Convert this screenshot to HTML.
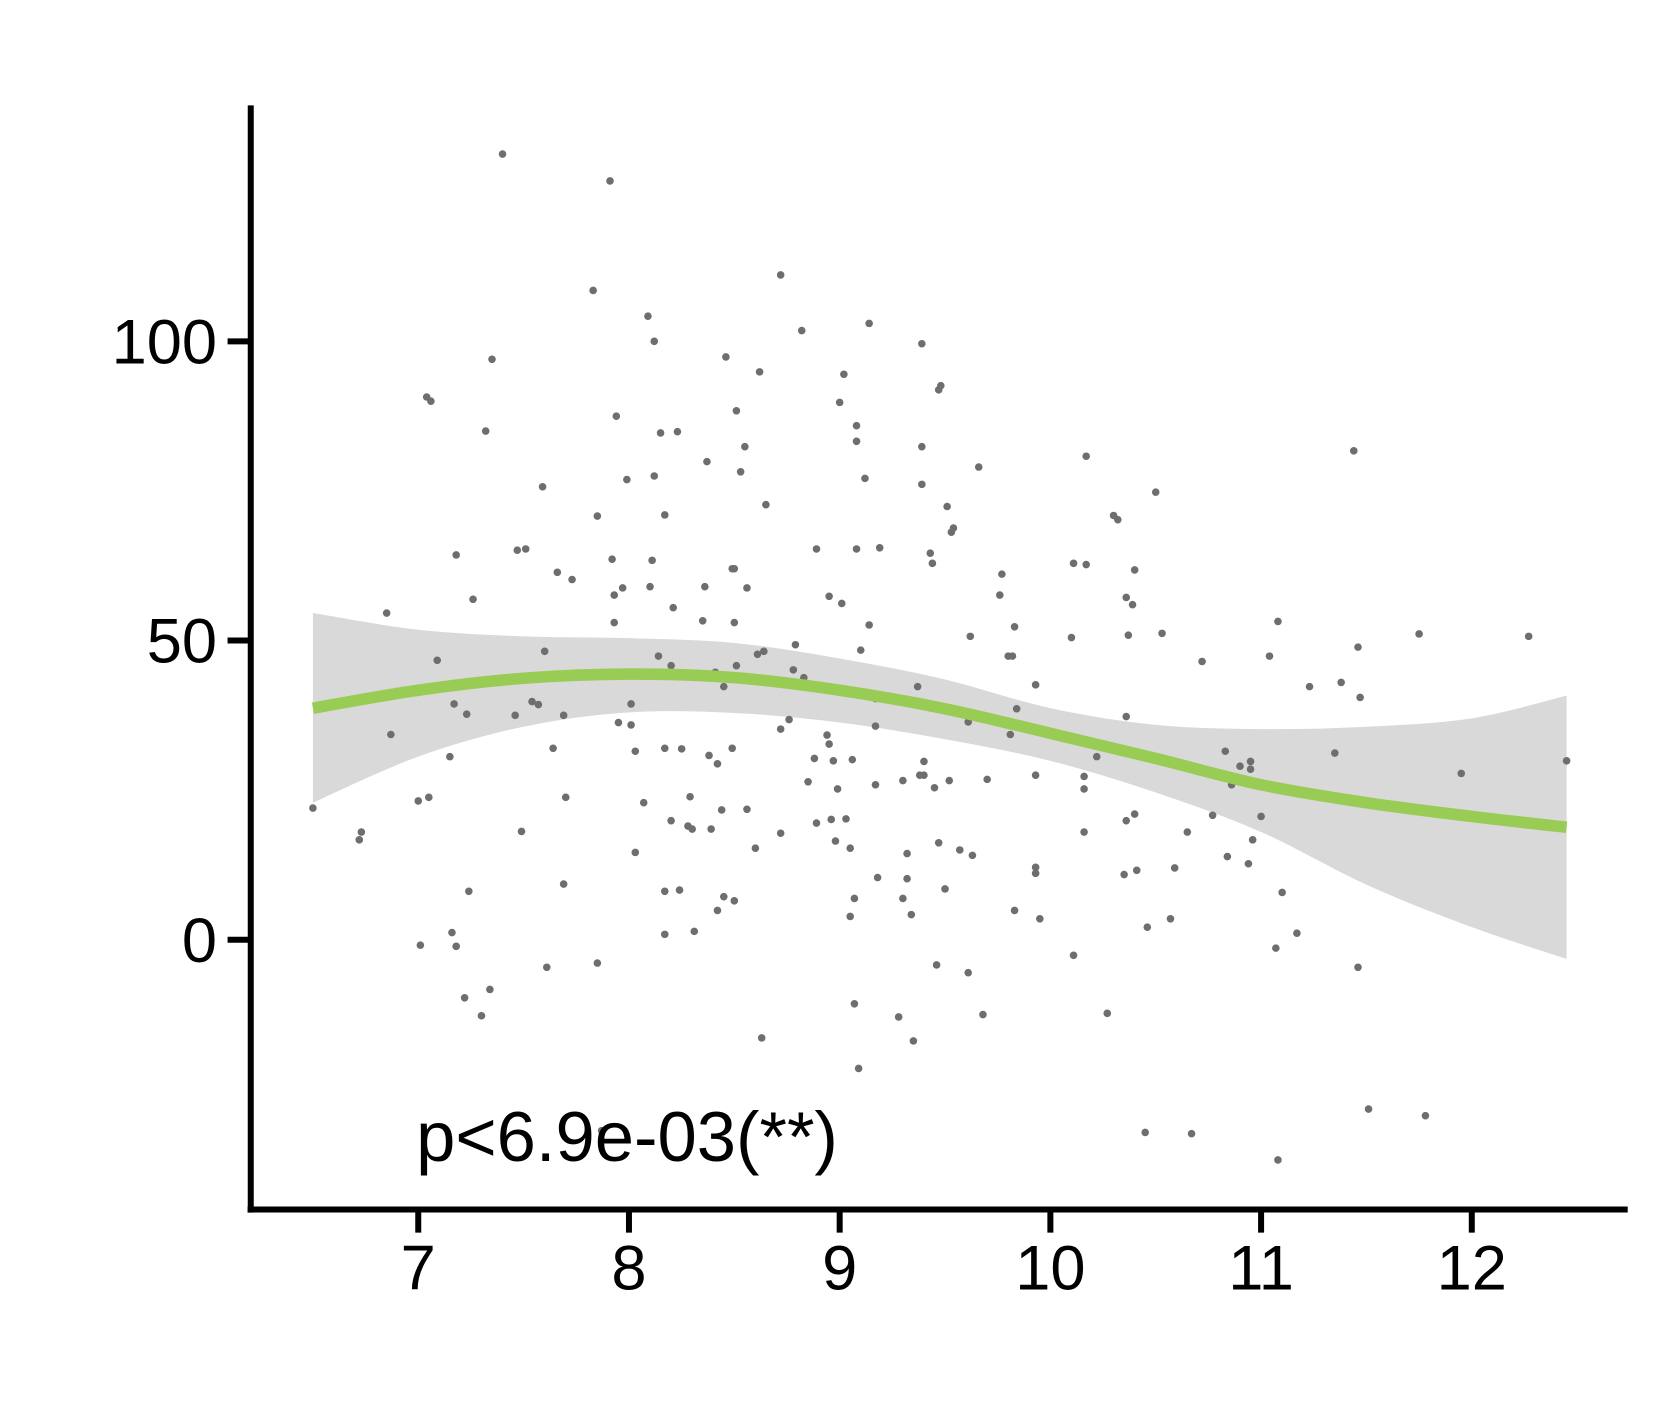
<!DOCTYPE html>
<html><head><meta charset="utf-8"><style>html,body{margin:0;padding:0;background:#fff}svg{display:block}</style></head>
<body>
<svg id="chart" width="1653" height="1417" viewBox="0 0 1569 1345" xmlns="http://www.w3.org/2000/svg" font-family="Liberation Sans, Arial, sans-serif">
<rect width="1569" height="1345" fill="#fff"/>
<g id="band"></g><g id="pts"></g><g id="line"></g><g id="axes"></g>
<text x="395" y="1102" font-size="67" fill="#000">p&lt;6.9e-03(**)</text>
</svg>
<script>
const xTicks=[7,8,9,10,11,12];
const yTicks=[0,50,100];
const ptX=[6.50,6.73,6.72,6.85,6.87,7.0,7.05,7.04,7.06,7.01,7.09,7.16,7.18,7.15,7.17,7.18,7.23,7.24,7.22,7.26,7.30,7.32,7.34,7.35,7.40,7.46,7.47,7.51,7.49,7.54,7.57,7.59,7.60,7.61,7.64,7.66,7.69,7.69,7.70,7.73,7.83,7.85,7.85,7.87,7.91,7.92,7.93,7.93,7.94,7.95,7.97,7.99,8.01,8.01,8.03,8.03,8.07,8.09,8.10,8.11,8.12,8.12,8.14,8.15,8.17,8.17,8.17,8.17,8.20,8.20,8.21,8.23,8.24,8.25,8.28,8.30,8.29,8.31,8.35,8.36,8.37,8.38,8.39,8.41,8.42,8.42,8.44,8.45,8.45,8.46,8.49,8.49,8.50,8.50,8.50,8.51,8.51,8.53,8.55,8.56,8.56,8.60,8.61,8.62,8.63,8.64,8.65,8.72,8.72,8.72,8.76,8.78,8.79,8.82,8.83,8.85,8.88,8.89,8.89,8.94,8.95,8.95,8.96,8.97,8.98,8.99,9.00,9.01,9.02,9.03,9.05,9.05,9.06,9.07,9.07,9.08,9.08,9.08,9.09,9.10,9.12,9.14,9.14,9.17,9.17,9.17,9.18,9.19,9.28,9.30,9.30,9.32,9.32,9.34,9.35,9.37,9.38,9.39,9.39,9.39,9.40,9.40,9.43,9.44,9.45,9.46,9.47,9.47,9.48,9.50,9.51,9.52,9.53,9.54,9.57,9.61,9.61,9.62,9.63,9.66,9.68,9.70,9.76,9.77,9.80,9.82,9.81,9.83,9.83,9.84,9.93,9.93,9.93,9.93,9.95,10.10,10.11,10.11,10.16,10.16,10.16,10.17,10.17,10.22,10.27,10.30,10.32,10.35,10.36,10.36,10.36,10.37,10.39,10.40,10.40,10.41,10.45,10.46,10.50,10.53,10.57,10.59,10.65,10.67,10.72,10.77,10.82,10.83,10.84,10.86,10.90,10.94,10.95,10.95,10.96,11.00,11.04,11.07,11.08,11.08,11.10,11.17,11.23,11.35,11.38,11.44,11.46,11.46,11.47,11.51,11.75,11.78,11.95,12.27,12.45];
const ptY=[22.0,18.0,16.7,54.6,34.3,23.2,23.8,90.7,90.0,-0.9,46.7,1.2,-1.1,30.6,39.4,64.3,37.7,8.1,-9.7,56.9,-12.7,85.0,-8.3,97.0,131.3,37.5,65.1,65.3,18.1,39.8,39.3,75.7,48.2,-4.6,32.0,61.4,9.3,37.5,23.8,60.2,108.5,-3.9,70.8,-31.9,126.8,63.6,57.6,53.0,87.5,36.3,58.8,76.9,39.4,35.9,31.5,14.6,22.9,104.2,59.0,63.4,100.0,77.5,47.4,84.7,71.0,32.0,8.1,0.9,45.8,19.9,55.5,84.9,8.3,31.9,19.0,18.5,23.9,1.4,53.3,59.0,79.9,30.8,18.5,44.7,4.9,29.4,21.7,42.3,7.2,97.4,32.0,62.0,62.0,53.0,6.5,45.8,88.4,78.2,82.4,58.8,21.8,15.3,47.7,94.9,-16.4,48.2,72.7,35.2,17.8,111.1,36.8,45.1,49.3,101.8,43.8,26.4,30.3,65.3,19.5,34.2,32.7,57.4,20.1,29.9,16.5,25.2,89.8,56.2,94.5,20.2,15.3,3.9,30.1,6.9,-10.7,83.3,85.9,65.3,-21.5,48.4,77.1,52.6,103.0,40.3,25.9,35.7,10.4,65.5,-12.9,26.6,6.9,14.4,10.2,4.2,-16.9,42.3,27.5,99.6,82.4,76.1,29.8,27.5,64.6,62.9,25.4,-4.2,16.2,91.9,92.6,8.5,72.4,26.6,68.1,68.8,15.0,-5.5,36.4,50.7,14.1,79.0,-12.5,26.8,57.6,61.1,47.4,47.4,34.3,4.9,52.3,38.6,27.5,12.1,11.1,42.6,3.5,50.5,62.9,-2.6,25.2,27.3,18.0,80.8,62.7,30.6,-12.3,70.9,70.2,10.9,57.2,37.3,19.9,50.9,56.0,61.8,21.0,11.6,-32.2,2.1,74.8,51.2,3.5,12.0,18.0,-32.4,46.5,20.8,27.1,31.5,13.9,25.9,29.0,12.7,29.8,28.5,16.7,20.6,47.4,-1.4,53.2,-36.8,7.9,1.1,42.3,31.2,43.0,81.7,48.9,-4.6,40.5,-28.3,51.1,-29.4,27.8,50.7,29.9];
const fitX=[6.5,7.0,7.5,8.0,8.5,9.0,9.5,10.0,10.5,11.0,11.5,12.0,12.45];
const fitY=[38.7,41.7,43.7,44.4,43.8,41.7,38.6,34.5,30.3,25.9,22.9,20.6,18.8];
const fitUpper=[54.6,51.8,50.7,50.4,49.6,47.0,43.5,38.7,35.9,35.2,35.6,37.0,40.8];
const fitLower=[22.9,30.6,35.6,38.0,37.9,36.3,33.5,29.9,24.6,18.0,9.2,2.1,-3.2];

const NS='http://www.w3.org/2000/svg';
const sx=v=>397+(v-7)*200;
const sy=v=>892-v*5.68;
function mk(tag,attrs,parent){const e=document.createElementNS(NS,tag);for(const k in attrs)e.setAttribute(k,attrs[k]);document.getElementById(parent).appendChild(e);return e;}
function smooth(xs,ys){let d='M'+sx(xs[0])+','+sy(ys[0]);for(let i=0;i<xs.length-1;i++){const x0=sx(xs[Math.max(i-1,0)]),y0=sy(ys[Math.max(i-1,0)]),x1=sx(xs[i]),y1=sy(ys[i]),x2=sx(xs[i+1]),y2=sy(ys[i+1]),x3=sx(xs[Math.min(i+2,xs.length-1)]),y3=sy(ys[Math.min(i+2,xs.length-1)]);d+=' C'+(x1+(x2-x0)/6)+','+(y1+(y2-y0)/6)+' '+(x2-(x3-x1)/6)+','+(y2-(y3-y1)/6)+' '+x2+','+y2;}return d;}
let bd=smooth(fitX,fitUpper);
const rx=fitX.slice().reverse(),rl=fitLower.slice().reverse();
bd+=' L'+sx(rx[0])+','+sy(rl[0])+smooth(rx,rl).replace(/^M[^ ]+/,'')+' Z';
const band=mk('path',{d:bd,fill:'#d9d9d9'},'band');


for(let i=0;i<ptX.length;i++){const c=mk('circle',{cx:sx(ptX[i]),cy:sy(ptY[i]),r:3.6,fill:'#6e6e6e'},'pts');

}
const ln=mk('path',{d:smooth(fitX,fitY),fill:'none',stroke:'#99cc55','stroke-width':11},'line');


const ya=mk('line',{x1:238,y1:100,x2:238,y2:1151,stroke:'#000','stroke-width':5.7},'axes');


const xa=mk('line',{x1:235,y1:1148,x2:1545,y2:1148,stroke:'#000','stroke-width':5.7},'axes');


xTicks.forEach(t=>{const l=mk('line',{x1:sx(t),y1:1148,x2:sx(t),y2:1170,stroke:'#000','stroke-width':5.7},'axes');


const tx=mk('text',{x:sx(t),y:1224,'font-size':60,'text-anchor':'middle',fill:'#000'},'axes');tx.textContent=t;

});
yTicks.forEach(t=>{const l=mk('line',{x1:216,y1:sy(t),x2:238,y2:sy(t),stroke:'#000','stroke-width':5.7},'axes');


const tx=mk('text',{x:206,y:sy(t)+21,'font-size':60,'text-anchor':'end',fill:'#000'},'axes');tx.textContent=t;

});
</script>
</body></html>
